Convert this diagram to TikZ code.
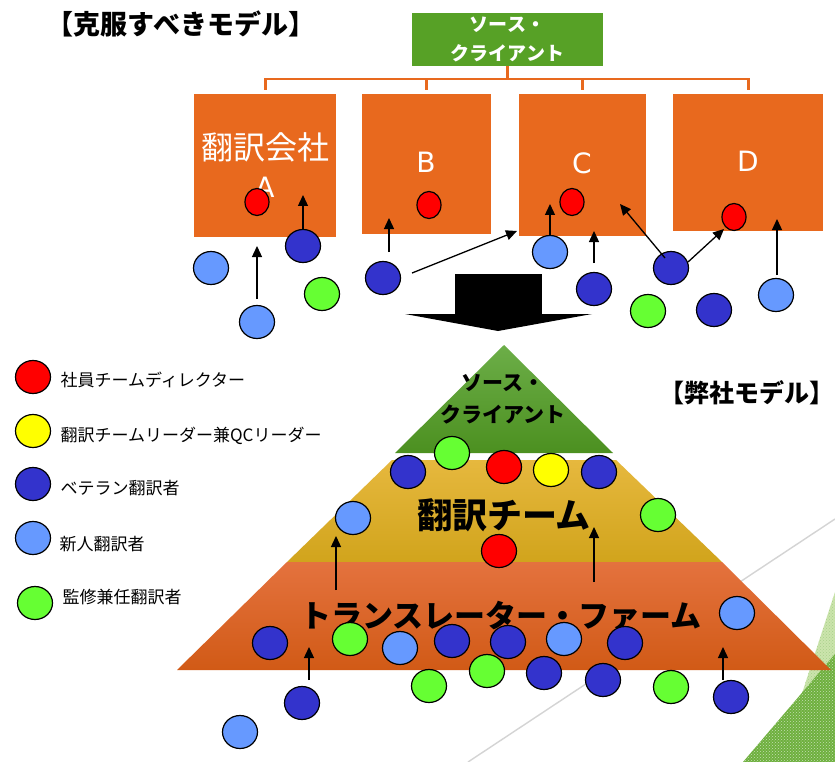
\documentclass[tikz,border=0pt]{standalone}
\usepackage{fontspec}
\setmainfont{Noto Sans CJK JP}
\newfontfamily\dejavu{DejaVu Sans}
\usetikzlibrary{arrows.meta,shapes.geometric,patterns}
\definecolor{cred}{HTML}{FF0000}
\definecolor{cyel}{HTML}{FFFF00}
\definecolor{cdblue}{HTML}{3333CC}
\definecolor{clblue}{HTML}{6699FF}
\definecolor{cgreen}{HTML}{66FF33}
\definecolor{corange}{HTML}{E8691E}
\definecolor{cbox}{HTML}{57A126}
\definecolor{gtop}{HTML}{6CAE48}
\definecolor{gbot}{HTML}{4C9020}
\definecolor{ytop}{HTML}{E6B83E}
\definecolor{ybot}{HTML}{D1A41C}
\definecolor{otop}{HTML}{E4723E}
\definecolor{obot}{HTML}{D15A16}
\definecolor{hatchdark}{HTML}{6EB03E}
\definecolor{hatchlight}{HTML}{CBE4AC}
\definecolor{lgray}{HTML}{D4D4D4}
\tikzset{
  dot/.style={ellipse, draw=black, line width=1.2pt, minimum width=35pt, minimum height=33pt, inner sep=0pt},
  rd/.style={dot, fill=cred},
  yd/.style={dot, fill=cyel},
  db/.style={dot, fill=cdblue},
  lb/.style={dot, fill=clblue},
  gd/.style={dot, fill=cgreen},
  sred/.style={dot, fill=cred, minimum width=24pt, minimum height=27pt},
  arr/.style={-{Triangle[length=11pt,width=10pt]}, line width=1.3pt},
  company/.style={fill=corange, draw=none, anchor=north west, inner sep=0pt},
  letter/.style={text=white, font=\dejavu\fontsize{28}{30}\selectfont},
  legtext/.style={anchor=west, font=\fontsize{17}{19}\selectfont},
  tee/.style={draw=corange, line width=2.6pt},
}
\begin{document}
\begin{tikzpicture}[x=1pt,y=-1pt]
\useasboundingbox (0,0) rectangle (835,762);
\fill[white] (0,0) rectangle (835,762);

% ---------- background decoration ----------
\draw[lgray, line width=1.4pt] (468,762) -- (835,519);
\fill[hatchlight] (794,718) -- (835,592) -- (835,762) -- cycle;
\fill[pattern=crosshatch dots, pattern color=hatchdark!60!white] (794,718) -- (835,592) -- (835,762) -- cycle;
\fill[hatchdark] (743,762) -- (835,654) -- (835,762) -- cycle;
\fill[pattern=crosshatch dots, pattern color=hatchdark!40!white] (743,762) -- (835,654) -- (835,762) -- cycle;

% ---------- top: model to overcome ----------
\node[inner sep=0pt, font=\bfseries\fontsize{27}{30}\selectfont] (t1) at (181,24) {【克服すべきモデル】};

\node[fill=cbox, minimum width=191pt, minimum height=53pt, inner sep=0pt, text=white, align=center,
      font=\bfseries\fontsize{19}{29}\selectfont] (src) at (507.5,39.5) {ソース・\\クライアント};

\path (194,94) node[company, minimum width=142pt, minimum height=143pt] (bA) {};
\path (362,94) node[company, minimum width=129pt, minimum height=140pt] (bB) {};
\path (519,94) node[company, minimum width=127pt, minimum height=142pt] (bC) {};
\path (673,94) node[company, minimum width=150pt, minimum height=137pt] (bD) {};

\draw[tee] (src.south) -- ++(0,13) coordinate (hub);
\draw[tee, shorten >=4pt] (hub) -| (bA.north);
\draw[tee, shorten >=4pt] (hub) -| (bB.north);
\draw[tee, shorten >=4pt] (hub) -| (bC.north);
\draw[tee, shorten >=4pt] (hub) -| (bD.north);

\node[text=white, font=\fontsize{32}{34}\selectfont] (lA1) at (265,147) {翻訳会社};
\node[letter] (lA2) at (265,187) {A};
\node[letter] (lB) at (426,162) {B};
\node[letter] (lC) at (582,163) {C};
\node[letter] (lD) at (748,161) {D};

\node[sred] (rA) at (257,202) {};
\node[sred] (rB) at (429,205) {};
\node[sred] (rC) at (572,202) {};
\node[sred] (rD) at (734,217) {};

\node[lb] (a1) at (211,268) {};
\node[lb] (a2) at (257,322) {};
\node[db] (a3) at (303,246) {};
\node[gd] (a4) at (322,294) {};
\node[db] (a5) at (383,278) {};
\node[lb] (c1) at (550,252) {};
\node[db] (c2) at (594,289) {};
\node[db] (c3) at (671,268) {};
\node[gd] (c4) at (648,311) {};
\node[db] (c5) at (714,310) {};
\node[lb] (c6) at (776,295) {};

\coordinate (p1s) at (257,299); \coordinate (p1t) at (257,246);
\coordinate (p2s) at (303,229); \coordinate (p2t) at (303,195);
\coordinate (p3s) at (389,252); \coordinate (p3t) at (389,218);
\coordinate (p4s) at (412,273); \coordinate (p4t) at (517,231);
\coordinate (p5s) at (550,236); \coordinate (p5t) at (550,204);
\coordinate (p6s) at (594,263); \coordinate (p6t) at (594,231);
\coordinate (p7s) at (665,258); \coordinate (p7t) at (620,204);
\coordinate (p8s) at (688,262); \coordinate (p8t) at (724,229);
\coordinate (p9s) at (777,275); \coordinate (p9t) at (777,219);
\foreach \i in {1,...,9} {\draw[arr] (p\i s) -- (p\i t);}

% big down arrow
\fill[black] (455,274) rectangle (542,315);
\fill[black] (405,314) -- (592,314) -- (498,331) -- cycle;

% ---------- legend ----------
\node[rd] (k1) at (33,377) {};
\node[legtext] (k1t) at (57,380) {社員チームディレクター};
\node[yd] (k2) at (33,431) {};
\node[legtext] (k2t) at (57,436) {翻訳チームリーダー兼QCリーダー};
\node[db] (k3) at (33,484) {};
\node[legtext] (k3t) at (57,488) {ベテラン翻訳者};
\node[lb] (k4) at (33,538) {};
\node[legtext] (k4t) at (56,544) {新人翻訳者};
\node[gd] (k5) at (35,603) {};
\node[legtext] (k5t) at (59,597) {監修兼任翻訳者};

% ---------- pyramid ----------
\shade[top color=gtop, bottom color=gbot] (504,345) -- (613,453) -- (395,453) -- cycle;
\shade[top color=ytop, bottom color=ybot] (392,460) -- (616,460) -- (722,562) -- (287,562) -- cycle;
\shade[top color=otop, bottom color=obot] (287,562) -- (722,562) -- (831,670) -- (177,670) -- cycle;

\node[align=center, font=\bfseries\fontsize{21}{32}\selectfont] (pt1) at (503,399) {ソース・\\クライアント};
\node[font=\bfseries\fontsize{35}{38}\selectfont] (pt2) at (504,515) {翻訳チーム};
\node[font=\bfseries\fontsize{31}{34}\selectfont] (pt3) at (501,616) {トランスレーター・ファーム};
\node[inner sep=0pt, font=\bfseries\fontsize{25}{28}\selectfont] (t2) at (747,393) {【弊社モデル】};

\node[db] (q1) at (408,472) {};
\node[gd] (q2) at (452,453) {};
\node[rd] (q3) at (504,467) {};
\node[yd] (q4) at (551,470) {};
\node[db] (q5) at (599,472) {};
\node[gd] (q6) at (658,515) {};
\node[rd] (q7) at (499,551) {};
\node[lb] (q8) at (353,518) {};
\node[lb] (q9) at (737,613) {};
\node[db] (q10) at (270,643) {};
\node[gd] (q11) at (350,639) {};
\node[lb] (q12) at (400,648) {};
\node[db] (q13) at (452,641) {};
\node[db] (q14) at (508,642) {};
\node[lb] (q15) at (564,639) {};
\node[db] (q16) at (625,643) {};
\node[gd] (q17) at (429,686) {};
\node[gd] (q18) at (487,671) {};
\node[db] (q19) at (544,673) {};
\node[db] (q20) at (603,680) {};
\node[gd] (q21) at (671,687) {};
\node[db] (q22) at (731,697) {};
\node[db] (q23) at (302,703) {};
\node[lb] (q24) at (240,732) {};

\coordinate (u1s) at (336,590); \coordinate (u1t) at (336,536);
\coordinate (u2s) at (594,582); \coordinate (u2t) at (594,527);
\coordinate (u3s) at (309,680); \coordinate (u3t) at (309,647);
\coordinate (u4s) at (723,680); \coordinate (u4t) at (723,647);
\foreach \i in {1,...,4} {\draw[arr] (u\i s) -- (u\i t);}
\end{tikzpicture}
\end{document}
